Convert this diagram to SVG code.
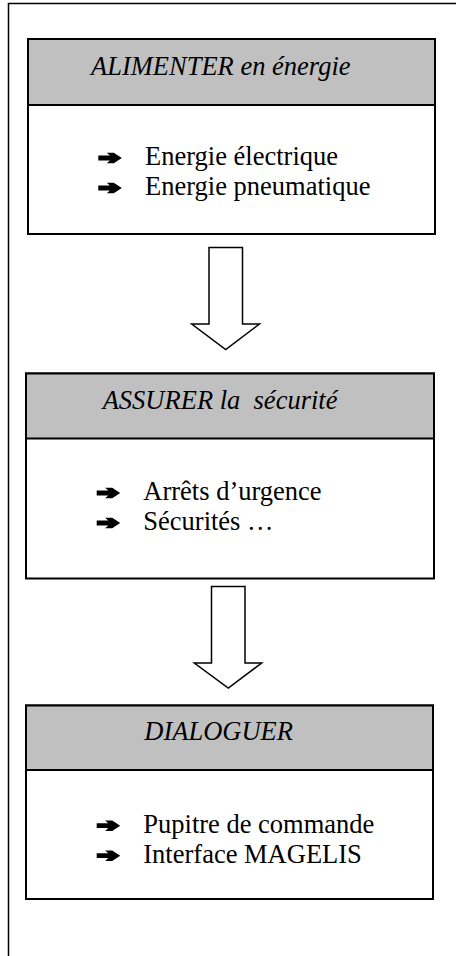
<svg xmlns="http://www.w3.org/2000/svg" width="456" height="956" viewBox="0 0 456 956">
<style>
.frame{fill:none;stroke:#000;stroke-width:1.5}
.box{fill:#fff;stroke:#000;stroke-width:2}
.head{fill:#c0c0c0;stroke:#000;stroke-width:2}
.title{font-family:"Liberation Serif",serif;font-style:italic;font-size:26.5px;fill:#000}
.item{font-family:"Liberation Serif",serif;font-size:26.5px;fill:#000}
.arrow{fill:#fff;stroke:#000;stroke-width:1.5;stroke-linejoin:miter}
</style>
<defs>
<polygon id="bullet" fill="#000" points="0,2.9 11.5,2.9 8.5,0 15.5,0 23.5,5.3 15.5,10.6 8.5,10.6 11.5,7.7 0,7.7"/>
</defs>
<rect width="456" height="956" fill="#fff"/>
<path class="frame" d="M8.5,956 V3.5 H456"/>
<g id="connectors">
<polygon class="arrow" points="209,247.5 242.5,247.5 242.5,324 259.5,324 225.7,349.5 191.7,324 209,324"/>
<polygon class="arrow" points="211.5,586.5 245,586.5 245,663 261.7,663 228.3,688 194.3,663 211.5,663"/>
</g>
<g id="node-alimenter">
<rect class="box" x="28" y="39" width="407" height="195"/>
<rect class="head" x="28" y="39" width="407" height="66"/>
<text class="title" x="91" y="75">ALIMENTER en énergie</text>
<use href="#bullet" x="98.3" y="152.7"/>
<text class="item" x="145" y="165">Energie électrique</text>
<use href="#bullet" x="98.3" y="182.7"/>
<text class="item" x="145" y="195">Energie pneumatique</text>
</g>
<g id="node-assurer">
<rect class="box" x="26" y="373.5" width="408" height="205"/>
<rect class="head" x="26" y="373.5" width="408" height="65"/>
<text class="title" x="102.7" y="408.5" xml:space="preserve">ASSURER la  sécurité</text>
<use href="#bullet" x="96.7" y="487.7"/>
<text class="item" x="143.3" y="500">Arrêts d’urgence</text>
<use href="#bullet" x="96.7" y="517.7"/>
<text class="item" x="143.3" y="530">Sécurités …</text>
</g>
<g id="node-dialoguer">
<rect class="box" x="26" y="705.5" width="407" height="193.5"/>
<rect class="head" x="26" y="705.5" width="407" height="64.5"/>
<text class="title" x="144.3" y="740">DIALOGUER</text>
<use href="#bullet" x="96.7" y="820.4"/>
<text class="item" x="143.3" y="832.7">Pupitre de commande</text>
<use href="#bullet" x="96.7" y="850.4"/>
<text class="item" x="143.3" y="862.7">Interface MAGELIS</text>
</g>
</svg>
